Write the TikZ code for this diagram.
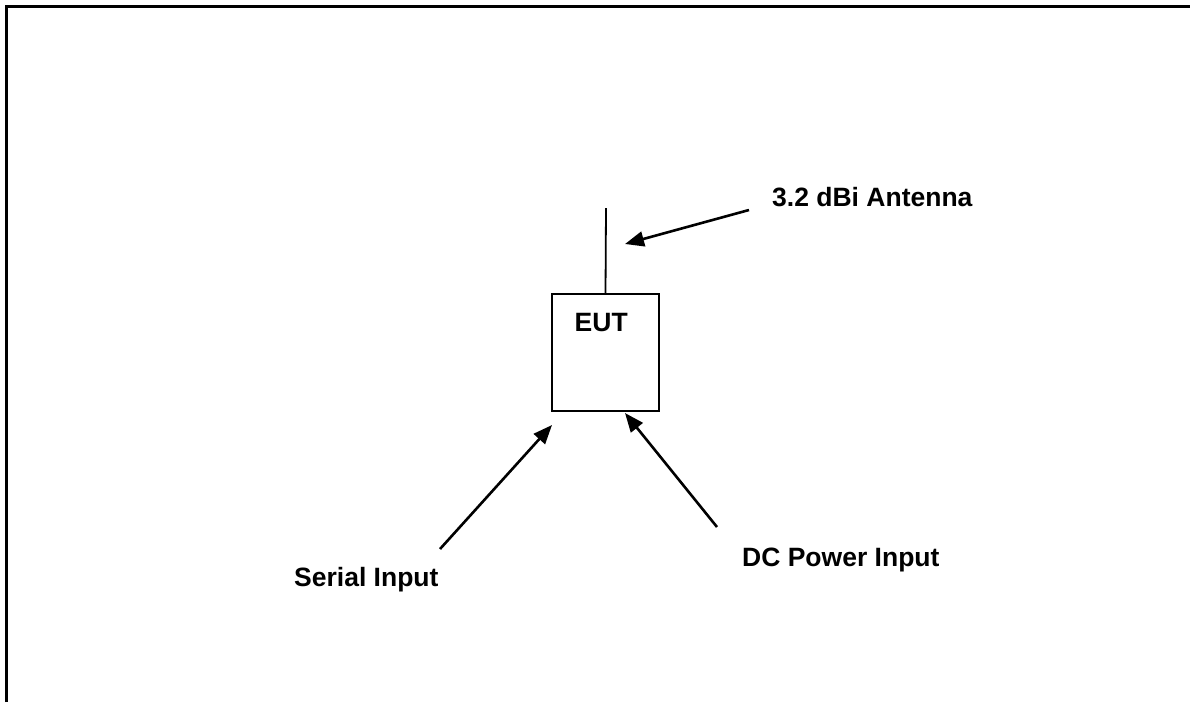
\documentclass[tikz,border=0pt]{standalone}
\usepackage{fontspec}
\setmainfont{Liberation Sans}
\usetikzlibrary{arrows.meta}
\begin{document}
\begin{tikzpicture}[x=1pt,y=-1pt,
  lbl/.style={font=\fontsize{26.5}{31}\selectfont\bfseries, inner sep=0pt, anchor=base west},
  ptr/.style={line width=2.6pt, -{Triangle[length=19pt,width=15pt]}},
  frame/.style={line width=2.4pt},
  eutbox/.style={draw, line width=1.8pt, minimum width=107pt, minimum height=117pt, inner sep=0pt}]
\useasboundingbox (0,0) rectangle (1190,702);
\draw[frame] (6.5,702) -- (6.5,6.5) -- (1190,6.5);
\node[eutbox] (eut) at (605.5,352.5) {};
\node[lbl] (eutl) at (574.5,331) {EUT};
\coordinate (antTop) at (606,208);
\draw[line width=1.8pt] (eut.north) -- (antTop);
\node[lbl] (ant) at (772,206) {3.2 dBi Antenna};
\node[lbl] (ser) at (294,586) {Serial Input};
\node[lbl] (dc) at (742,566) {DC Power Input};
\coordinate (antS) at (749,210);
\coordinate (antT) at (625,244);
\coordinate (serS) at (440,549);
\coordinate (serT) at (552,425);
\coordinate (dcS) at (717,527);
\coordinate (dcT) at (625,413);
\draw[ptr] (antS) -- (antT);
\draw[ptr] (serS) -- (serT);
\draw[ptr] (dcS) -- (dcT);
\end{tikzpicture}
\end{document}
